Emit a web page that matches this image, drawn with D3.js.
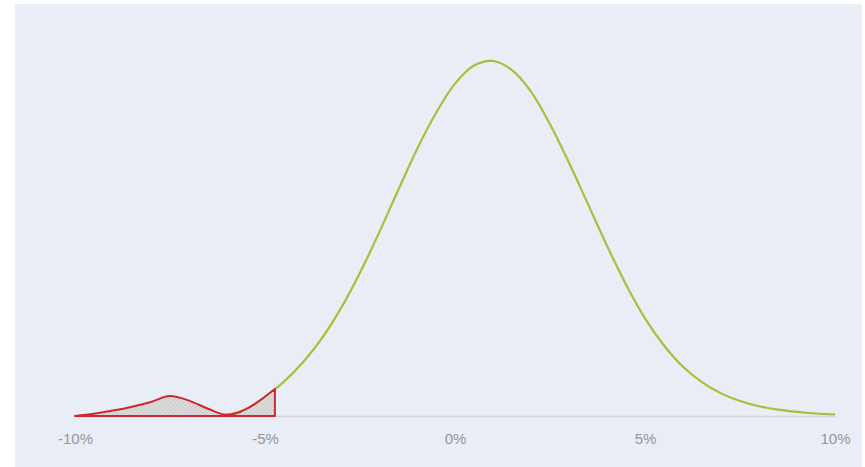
<!DOCTYPE html>
<html>
<head>
<meta charset="utf-8">
<script src="https://cdn.jsdelivr.net/npm/d3@7"></script>
<style>
  html, body { margin: 0; padding: 0; background: #ffffff; }
  svg { display: block; }
</style>
</head>
<body>
<svg id="chart" width="865" height="467"></svg>
<script>
// Return in % (x) and density (y)
const greenX = [-10,-9.5,-9,-8.5,-8,-7.5,-7,-6.5,-6,-5.5,-5,-4.5,-4,-3.5,-3,-2.5,-2,-1.5,-1,-0.5,0,0.5,1,1.5,2,2.5,3,3.5,4,4.5,5,5.5,6,6.5,7,7.5,8,8.5,9,9.5,10];
const greenY = [0,0,0,0,0,0,0,0.0001,0.0006,0.0030,0.0085,0.0152,0.0238,0.0344,0.0477,0.0634,0.0810,0.0997,0.1180,0.1340,0.1470,0.1550,0.1570,0.1530,0.1435,0.1290,0.1120,0.0937,0.0753,0.0582,0.0432,0.0312,0.0218,0.0150,0.0100,0.0066,0.0043,0.0028,0.0018,0.0011,0.0007];

const redX = [-10,-9.5,-9,-8.5,-8,-7.5,-7,-6.5,-6,-5.75,-5.5,-5.25,-5,-4.74];
const redY = [0,0.0010,0.0024,0.0041,0.0062,0.0088,0.0068,0.0032,0.0005,0.0012,0.0030,0.0055,0.0085,0.0119];

const tickVals = [-10,-5,0,5,10];
const tickLabels = ["-10%","-5%","0%","5%","10%"];

const svg = d3.select("#chart");

svg.append("rect").attr("x", 15).attr("y", 4).attr("width", 847).attr("height", 463).attr("fill", "#e9edf5");

const defs = svg.append("defs");
const pat = defs.append("pattern").attr("id", "hatch").attr("patternUnits", "userSpaceOnUse")
  .attr("width", 3).attr("height", 3).attr("patternTransform", "rotate(45)");
pat.append("rect").attr("width", 3).attr("height", 3).attr("fill", "#dcdcdc");
pat.append("line").attr("x1", 0).attr("y1", 0).attr("x2", 0).attr("y2", 3).attr("stroke", "#b8b8b8").attr("stroke-width", 1);

const x = d3.scaleLinear().domain([-10, 10]).range([75, 835]);
const y = d3.scaleLinear().domain([0, 0.157]).range([416, 61]);

const axis = d3.axisBottom(x).tickValues(tickVals).tickFormat((d, i) => tickLabels[i]).tickSize(0).tickSizeOuter(0).tickPadding(17);
const ag = svg.append("g").attr("transform", "translate(0,416)").call(axis);
ag.select(".domain").attr("stroke", "#cfd3db").attr("stroke-width", 1.5);
ag.selectAll("text").attr("fill", "#959595").attr("font-size", 15).attr("font-family", "Liberation Sans, Arial, sans-serif");

const greenData = greenX.map((v, i) => [v, greenY[i]]);
svg.append("path").datum(greenData)
  .attr("d", d3.line().x(d => x(d[0])).y(d => y(d[1])).curve(d3.curveCatmullRom.alpha(0.5)))
  .attr("fill", "none").attr("stroke", "#a2c23c").attr("stroke-width", 2.2);

const redData = redX.map((v, i) => [v, redY[i]]);
svg.append("path").datum(redData)
  .attr("d", d3.area().x(d => x(d[0])).y0(y(0)).y1(d => y(d[1])).curve(d3.curveMonotoneX))
  .attr("fill", "url(#hatch)").attr("stroke", "#d0262f").attr("stroke-width", 2).attr("stroke-linejoin", "round");
</script>
</body>
</html>
